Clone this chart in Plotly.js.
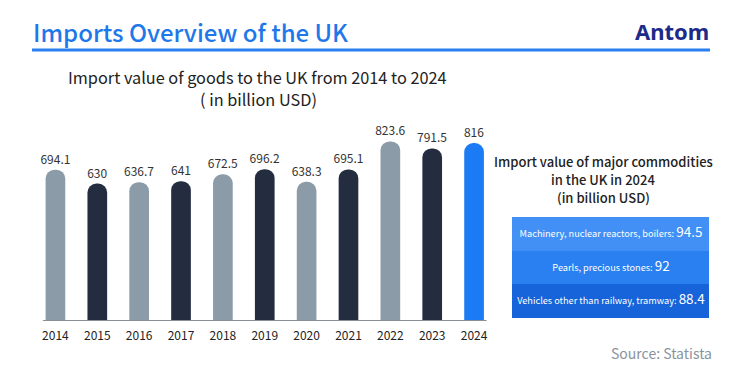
<!DOCTYPE html>
<html>
<head>
<meta charset="utf-8">
<script src="https://cdn.plot.ly/plotly-3.0.1.min.js"></script>
<style>html,body{margin:0;padding:0;background:#fff;}#chart{width:753px;height:372px;}</style>
</head>
<body>
<div id="chart"></div>
<script>
// ---- data ----
const years = ["2014","2015","2016","2017","2018","2019","2020","2021","2022","2023","2024"];
const importValues = [694.1, 630, 636.7, 641, 672.5, 696.2, 638.3, 695.1, 823.6, 791.5, 816];
const commodityNames = ["Machinery, nuclear reactors, boilers", "Pearls, precious stones", "Vehicles other than railway, tramway"];
const commodityValues = [94.5, 92, 88.4];
const sideTitleLines = ["Import value of major commodities", "in the UK in 2024", "(in billion USD)"];

// ---- helpers ----
const W = 753, H = 372;
const px = v => v / W;
const py = v => 1 - v / H;
const FONT = '"Noto Sans CJK SC", "Noto Sans", sans-serif';

const barColors = years.map((y, i) => i === years.length - 1 ? '#1a7bf4' : (i % 2 === 0 ? '#8b9ba8' : '#232d3f'));

const barTrace = {
  type: 'bar',
  x: years,
  y: importValues,
  text: importValues.map(v => String(v)),
  textposition: 'outside',
  constraintext: 'none',
  textfont: {family: FONT, size: 12, color: '#333'},
  cliponaxis: false,
  marker: {color: barColors, cornerradius: 10},
  hoverinfo: 'x+y'
};

const rowTrace = {
  type: 'heatmap',
  xaxis: 'x2', yaxis: 'y2',
  x: ['2024'],
  y: commodityNames,
  z: commodityValues.map(v => [v]),
  text: commodityNames.map(n => [n]),
  texttemplate: '%{text}: <span style="font-size:13.5px">%{z}</span>',
  textfont: {family: FONT, size: 9.2, color: '#ffffff'},
  zmin: 88.4, zmax: 94.5,
  colorscale: [[0, '#1663da'], [0.59, '#2a7ff1'], [1, '#4290f5']],
  showscale: false,
  xgap: 0, ygap: 0,
  hoverinfo: 'y+z'
};

const sideTitleAnns = sideTitleLines.map((t, i) => ({
  text: t, xref: 'paper', yref: 'paper', x: px(603), y: py(161 + 18 * i), xanchor: 'center', yanchor: 'middle', showarrow: false,
  font: {family: FONT, size: 13, color: '#222', weight: 500}
}));

const layout = {
  width: W, height: H,
  margin: {l: 0, r: 0, t: 0, b: 0},
  paper_bgcolor: '#ffffff',
  plot_bgcolor: 'rgba(0,0,0,0)',
  showlegend: false,
  bargap: 0.53,
  font: {family: FONT, color: '#222'},
  xaxis: {
    domain: [px(34.5), px(495)],
    type: 'category',
    showgrid: false, zeroline: false, showline: false, ticks: '',
    ticklabelstandoff: 6,
    tickfont: {family: FONT, size: 12, color: '#222'},
    fixedrange: true
  },
  yaxis: {
    domain: [py(321), py(140)],
    range: [0, 830],
    visible: false,
    fixedrange: true
  },
  xaxis2: {domain: [px(512), px(709)], anchor: 'y2', visible: false, fixedrange: true},
  yaxis2: {domain: [py(318), py(217)], anchor: 'x2', visible: false, autorange: 'reversed', type: 'category', fixedrange: true},
  shapes: [
    {type: 'line', xref: 'paper', yref: 'paper', x0: px(32), x1: px(710), y0: py(50), y1: py(50), line: {color: '#2a7ff0', width: 3}},
    {type: 'line', xref: 'x', yref: 'y', x0: -0.3, x1: 10.3, y0: 0, y1: 0, line: {color: '#8a8f96', width: 2}}
  ],
  annotations: [
    {text: 'Imports Overview of the UK', xref: 'paper', yref: 'paper', x: px(31), y: py(31), xanchor: 'left', yanchor: 'middle', showarrow: false,
     font: {family: FONT, size: 24, color: '#1f78ea', weight: 500}},
    {text: 'Antom', xref: 'paper', yref: 'paper', x: px(711), y: py(31), xanchor: 'right', yanchor: 'middle', showarrow: false,
     font: {family: '"Noto Sans", sans-serif', size: 22, color: '#1d2a8a', weight: 'bold'}},
    {text: 'Import value of goods to the UK from 2014 to 2024', xref: 'paper', yref: 'paper', x: px(257), y: py(77), xanchor: 'center', yanchor: 'middle', showarrow: false,
     font: {family: FONT, size: 16.3, color: '#222'}},
    {text: '( in billion USD)', xref: 'paper', yref: 'paper', x: px(258), y: py(99), xanchor: 'center', yanchor: 'middle', showarrow: false,
     font: {family: FONT, size: 16.3, color: '#222'}},
    ...sideTitleAnns,
    {text: 'Source: Statista', xref: 'paper', yref: 'paper', x: px(714), y: py(353), xanchor: 'right', yanchor: 'middle', showarrow: false,
     font: {family: FONT, size: 14, color: '#8a939c'}}
  ]
};

Plotly.newPlot('chart', [barTrace, rowTrace], layout, {displayModeBar: false, staticPlot: true});
</script>
</body>
</html>
